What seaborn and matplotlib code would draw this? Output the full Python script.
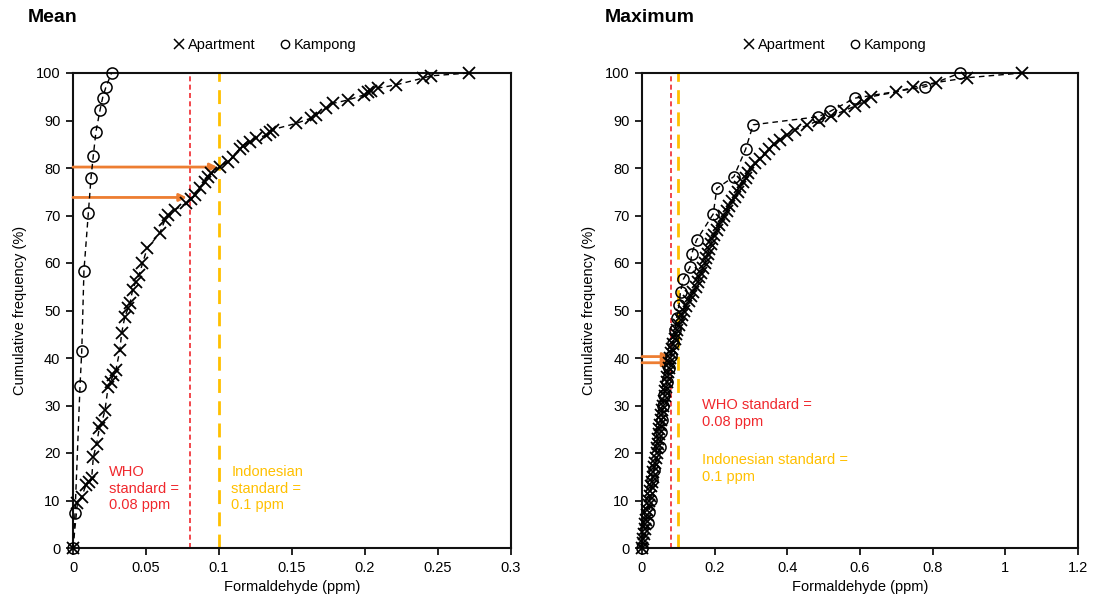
import matplotlib
matplotlib.use("Agg")
import matplotlib.pyplot as plt
from matplotlib.lines import Line2D
from matplotlib.ticker import FuncFormatter, MultipleLocator
import seaborn as sns

# ---- Mean concentrations: cumulative distribution ----
mean_apt_x = [0.0, 0.003, 0.006, 0.0089, 0.0112, 0.0128, 0.0139, 0.0162, 0.018, 0.0196,
              0.0219, 0.0241, 0.0257, 0.0276, 0.0294, 0.0321, 0.0333, 0.0355, 0.0378, 0.039,
              0.0408, 0.043, 0.0453, 0.0476, 0.0508, 0.0595, 0.0629, 0.0652, 0.0697, 0.0777,
              0.0811, 0.0834, 0.0868, 0.0902, 0.0925, 0.0948, 0.1005, 0.106, 0.1096, 0.1141,
              0.1164, 0.121, 0.1255, 0.1324, 0.1346, 0.1369, 0.1529, 0.1631, 0.1665, 0.1734,
              0.1779, 0.1881, 0.1995, 0.2018, 0.2041, 0.2086, 0.2212, 0.2394, 0.2451, 0.2713]
mean_apt_y = [0.0, 9.4, 10.8, 13.3, 14.0, 14.7, 19.1, 22.0, 25.2, 26.3,
              29.0, 34.0, 35.0, 36.4, 37.5, 41.7, 45.2, 48.7, 50.5, 51.5,
              54.3, 56.1, 57.5, 59.9, 63.1, 66.3, 69.0, 70.1, 71.2, 72.6,
              73.4, 74.3, 75.7, 77.1, 78.2, 78.9, 80.3, 81.3, 82.4, 83.9,
              84.6, 85.5, 86.3, 86.9, 87.6, 88.1, 89.4, 90.5, 91.2, 92.6,
              93.6, 94.3, 95.4, 95.9, 96.3, 96.8, 97.5, 98.9, 99.4, 100.0]

mean_kam_x = [0.0, 0.0014, 0.0048, 0.006, 0.0075, 0.0105, 0.0123, 0.0139, 0.0157,
              0.0185, 0.0203, 0.0226, 0.0264]
mean_kam_y = [0.0, 7.4, 34.1, 41.5, 58.4, 70.5, 77.8, 82.6, 87.6,
              92.2, 94.8, 97.1, 100.0]

# ---- Maximum concentrations: cumulative distribution ----
max_apt_x = [0.0, 0.002, 0.004, 0.006, 0.007, 0.008, 0.011, 0.013, 0.015, 0.018,
             0.020, 0.022, 0.023, 0.025, 0.027, 0.029, 0.031, 0.034, 0.036, 0.038,
             0.040, 0.041, 0.043, 0.044, 0.046, 0.047, 0.049, 0.051, 0.053, 0.056,
             0.058, 0.060, 0.062, 0.064, 0.067, 0.069, 0.070, 0.072, 0.073, 0.075,
             0.077, 0.080, 0.083, 0.086, 0.090, 0.093, 0.097, 0.101, 0.106, 0.111,
             0.116, 0.122, 0.128, 0.134, 0.141, 0.148, 0.153, 0.158, 0.163, 0.168,
             0.173, 0.177, 0.181, 0.185, 0.189, 0.193, 0.199, 0.206, 0.213, 0.219,
             0.226, 0.233, 0.240, 0.247, 0.255, 0.263, 0.270, 0.278, 0.285, 0.292,
             0.300, 0.312, 0.325, 0.338, 0.350, 0.364, 0.380, 0.398, 0.420, 0.455,
             0.486, 0.520, 0.555, 0.585, 0.610, 0.630, 0.700, 0.745, 0.810, 0.895,
             1.045]
max_apt_y = [0, 1, 2, 3, 4, 5, 6, 7, 8, 9,
             10, 11, 12, 13, 14, 15, 16, 17, 18, 19,
             20, 21, 22, 23, 24, 25, 26, 27, 28, 29,
             30, 31, 32, 33, 34, 35, 36, 37, 38, 39,
             40, 41, 42, 43, 44, 45, 46, 47, 48, 49,
             50, 51, 52, 53, 54, 55, 56, 57, 58, 59,
             60, 61, 62, 63, 64, 65, 66, 67, 68, 69,
             70, 71, 72, 73, 74, 75, 76, 77, 78, 79,
             80, 81, 82, 83, 84, 85, 86, 87, 88, 89,
             90, 91, 92, 93, 94, 95, 96, 97, 98, 99,
             100]

max_kam_x = [0.0, 0.017, 0.020, 0.024, 0.027, 0.033, 0.050, 0.052, 0.055, 0.057,
             0.061, 0.068, 0.075, 0.080, 0.084, 0.091, 0.095, 0.102, 0.106, 0.114,
             0.132, 0.137, 0.150, 0.196, 0.206, 0.253, 0.285, 0.306, 0.485, 0.517,
             0.586, 0.779, 0.875]
max_kam_y = [0.0, 5.2, 7.5, 10.1, 14.3, 16.4, 21.3, 24.5, 27.0, 29.8,
             32.2, 35.0, 37.8, 40.5, 43.1, 45.9, 48.4, 51.2, 54.0, 56.6,
             59.1, 62.0, 64.8, 70.3, 75.7, 78.2, 83.9, 89.1, 90.8, 91.9,
             94.7, 97.1, 100.0]

who_limit = 0.08
indo_limit = 0.1

sns.set_theme(style="ticks")
plt.rcParams["font.family"] = ["Liberation Sans", "DejaVu Sans"]
plt.rcParams["font.size"] = 10.5
for key in ("text.color", "axes.labelcolor", "xtick.color", "ytick.color",
            "axes.edgecolor"):
    plt.rcParams[key] = "black"

RED = "#F0282D"
GOLD = "#FFC000"
ORANGE = "#ED7D31"

fig = plt.figure(figsize=(10.95, 6.05), dpi=100)
ax1 = fig.add_axes([73 / 1095, 1 - 548 / 605, (511 - 73) / 1095, (548 - 73) / 605])
ax2 = fig.add_axes([642 / 1095, 1 - 548 / 605, (1078 - 642) / 1095, (548 - 73) / 605])

line_kw = dict(color="black", linewidth=1.0, linestyle=(0, (4, 3)),
               estimator=None, sort=False, legend=False, clip_on=False)


def draw_series(ax, ax_x, ax_y, kx, ky):
    sns.lineplot(x=ax_x, y=ax_y, ax=ax, marker="x", markersize=8,
                 markeredgewidth=1.3, markeredgecolor="black", zorder=4, **line_kw)
    sns.lineplot(x=kx, y=ky, ax=ax, marker="o", markersize=8,
                 markeredgewidth=1.1, markeredgecolor="black",
                 markerfacecolor="none", zorder=4, **line_kw)


draw_series(ax1, mean_apt_x, mean_apt_y, mean_kam_x, mean_kam_y)
draw_series(ax2, max_apt_x, max_apt_y, max_kam_x, max_kam_y)

for ax in (ax1, ax2):
    ax.axvline(who_limit, color=RED, linewidth=1.2, linestyle=(0, (3, 2)), zorder=1)
    ax.axvline(indo_limit, color=GOLD, linewidth=2.0, linestyle=(0, (5, 3)), zorder=1)
    ax.set_ylim(0, 100)
    ax.yaxis.set_major_locator(MultipleLocator(10))
    ax.xaxis.set_major_formatter(FuncFormatter(lambda v, p: f"{v:g}"))
    ax.set_ylabel("Cumulative frequency (%)", fontsize=10.5)
    ax.set_xlabel("Formaldehyde (ppm)", fontsize=10.5)
    ax.tick_params(axis="both", direction="out", length=5, width=1.2,
                   labelsize=10.5, color="black", labelcolor="black", pad=4)
    for sp in ax.spines.values():
        sp.set_visible(True)
        sp.set_color("#111111")
        sp.set_linewidth(1.5)
    ax.set_facecolor("white")
    ax.grid(False)

ax1.set_xlim(0, 0.3)
ax1.xaxis.set_major_locator(MultipleLocator(0.05))
ax2.set_xlim(0, 1.2)
ax2.xaxis.set_major_locator(MultipleLocator(0.2))

ax1.yaxis.set_label_coords(-0.105, 0.5)
ax2.yaxis.set_label_coords(-0.105, 0.5)

# Arrows pointing to the share of homes below each limit
arrow_kw = dict(arrowstyle="-|>", color=ORANGE, lw=2.0, mutation_scale=11,
                shrinkA=0, shrinkB=0)
for ax, ys, xe in ((ax1, (80.2, 73.8), (0.099, 0.078)),
                   (ax2, (40.3, 39.0), (0.078, 0.078))):
    for yv, xv in zip(ys, xe):
        ax.annotate("", xy=(xv, yv), xytext=(0.0, yv), arrowprops=arrow_kw,
                    annotation_clip=False)

# Standard labels
ax1.text(0.0245, 17.5, "WHO\nstandard =\n0.08 ppm", color=RED, va="top",
         ha="left", fontsize=10.5, linespacing=1.25)
ax1.text(0.1085, 17.5, "Indonesian\nstandard =\n0.1 ppm", color=GOLD, va="top",
         ha="left", fontsize=10.5, linespacing=1.25)
ax2.text(0.166, 31.5, "WHO standard =\n0.08 ppm", color=RED, va="top",
         ha="left", fontsize=10.5, linespacing=1.25)
ax2.text(0.166, 20.0, "Indonesian standard =\n0.1 ppm", color=GOLD, va="top",
         ha="left", fontsize=10.5, linespacing=1.25)

# Titles and legends
fig.text(28 / 1095, 1 - 18 / 605, "Mean", fontsize=14, fontweight="bold",
         va="center", ha="left", color="black")
fig.text(605 / 1095, 1 - 18 / 605, "Maximum", fontsize=14, fontweight="bold",
         va="center", ha="left", color="black")

handles = [Line2D([], [], linestyle="none", marker="x", color="black",
                  markersize=7, markeredgewidth=1.1),
           Line2D([], [], linestyle="none", marker="o", color="black",
                  markerfacecolor="none", markersize=6, markeredgewidth=1.0)]
labels = ["Apartment", "Kampong"]
for cx in (265 / 1095, 835 / 1095):
    fig.legend(handles, labels, loc="center", bbox_to_anchor=(cx, 1 - 45 / 605),
               ncol=2, frameon=False, fontsize=10.5, handlelength=0.8,
               handletextpad=0.2, columnspacing=1.6, labelcolor="black")

fig.savefig("out.png", dpi=100, facecolor="white")
